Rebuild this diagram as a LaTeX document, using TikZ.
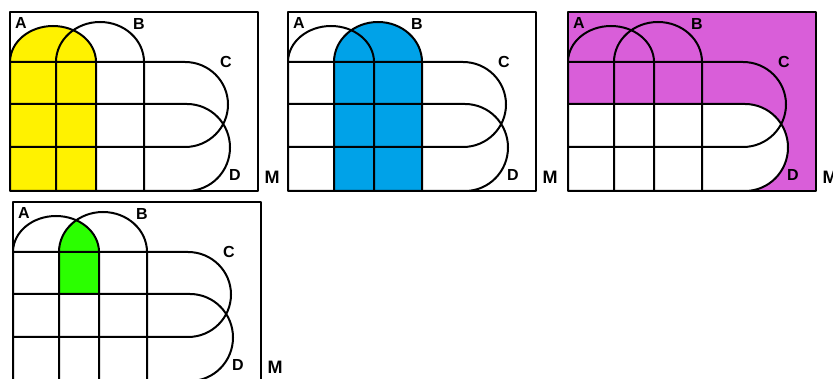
\documentclass[tikz,border=0pt]{standalone}
\usepackage{fontspec}
\setmainfont{Liberation Sans}
\definecolor{fillA}{HTML}{FFF200}
\definecolor{fillB}{HTML}{00A2E8}
\definecolor{fillM}{HTML}{D95ED9}
\definecolor{fillAB}{HTML}{2BFF00}
\tikzset{
  outline/.style={draw=black, line width=2pt, line join=round},
  setlabel/.style={font=\bfseries\fontsize{16}{16}\selectfont, inner sep=0pt},
  unilabel/.style={font=\bfseries\fontsize{18}{18}\selectfont, inner sep=0pt},
}
% outlines of the four sets, in panel coordinates (origin at the frame's top left)
\newcommand\pathA{(0,179) -- (0,50) arc[start angle=180, end angle=360, x radius=43, y radius=36] -- (86,179)}
\newcommand\pathB{(46,179) -- (46,50) arc[start angle=180, end angle=360, x radius=44, y radius=40] -- (134,179)}
\newcommand\pathC{(0,50) -- (175,50) arc[start angle=-90, end angle=90, x radius=43, y radius=42.5] -- (0,135)}
\newcommand\pathD{(0,92) -- (177,92) arc[start angle=-90, end angle=90, x radius=43, y radius=43.5] -- (0,179)}
% frame, set outlines and labels of one panel; #1 prefixes the node names
\newcommand\vennframe[1]{%
  \draw[outline] (0,0) rectangle (248,179);
  \draw[outline] \pathA;
  \draw[outline] \pathB;
  \draw[outline] \pathC;
  \draw[outline] \pathD;
  \node[setlabel] (#1A) at (11,11) {A};
  \node[setlabel] (#1B) at (129,12) {B};
  \node[setlabel] (#1C) at (216,50) {C};
  \node[setlabel] (#1D) at (225,163) {D};
  \node[unilabel] (#1M) at (262,165) {M};
}
\begin{document}
\begin{tikzpicture}[x=1pt, y=-1pt]
\useasboundingbox (0,0) rectangle (833,379);
\clip (0,0) rectangle (833,379);
% A
\begin{scope}[shift={(10,12)}]
  \fill[fillA] \pathA -- cycle;
  \vennframe{p}
\end{scope}
% B
\begin{scope}[shift={(288,12)}]
  \fill[fillB] \pathB -- cycle;
  \vennframe{q}
\end{scope}
% complement of D
\begin{scope}[shift={(568,12)}]
  \fill[fillM, even odd rule] (0,0) rectangle (248,179) \pathD -- cycle;
  \vennframe{r}
\end{scope}
% A and B outside D
\begin{scope}[shift={(13,202)}]
  \begin{scope}
    \clip \pathA -- cycle;
    \clip \pathB -- cycle;
    \fill[fillAB] (0,0) rectangle (248,92);
  \end{scope}
  \vennframe{s}
\end{scope}
\end{tikzpicture}
\end{document}
